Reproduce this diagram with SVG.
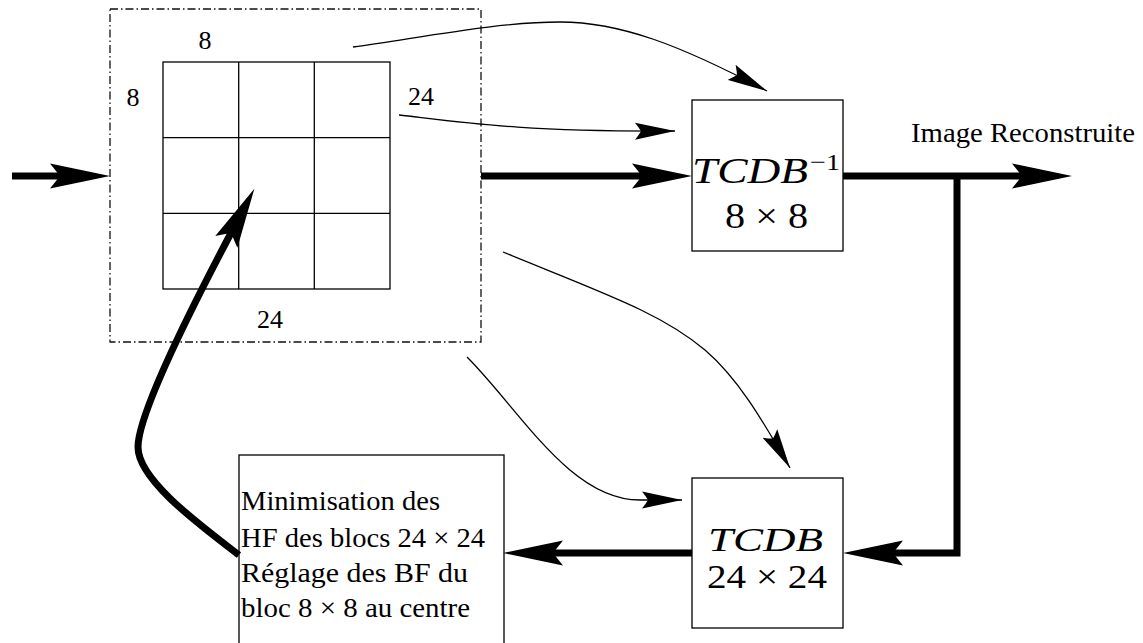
<svg xmlns="http://www.w3.org/2000/svg" width="1143" height="643" viewBox="0 0 1143 643">
  <style>
    .box { fill: #fff; stroke: #000; stroke-width: 1.3; }
    .grid { fill: none; stroke: #000; stroke-width: 1.3; }
    .frame { fill: none; stroke: #111; stroke-width: 1.3; stroke-dasharray: 8 3 1.5 3; }
    .txt { font-family: "Liberation Serif", "DejaVu Serif", serif; fill: #000; }
    .math { font-family: "Liberation Serif", "DejaVu Serif", serif; font-style: italic; fill: #000; }
    .thick { fill: none; stroke: #000; stroke-width: 7; stroke-linejoin: miter; }
    .thin { fill: none; stroke: #000; stroke-width: 1.3; }
  </style>
  <defs>
    <marker id="headThick" viewBox="0 -13 61 26" markerWidth="61" markerHeight="26" refX="10" refY="0" orient="auto" markerUnits="userSpaceOnUse">
      <path d="M60,0 L0,-12.5 Q6,-5 10,0 Q6,5 0,12.5 Z" fill="#000"/>
    </marker>
    <marker id="headThin" viewBox="0 -9 41 18" markerWidth="41" markerHeight="18" refX="40" refY="0" orient="auto" markerUnits="userSpaceOnUse">
      <path d="M40,0 L0,-8.5 Q4,-3.5 6,0 Q4,3.5 0,8.5 Z" fill="#000"/>
    </marker>
  </defs>

  <rect width="1143" height="643" fill="#fff"/>

  <!-- image block: 24x24 window made of nine 8x8 blocks -->
  <g id="fenetre">
    <rect class="frame" x="110" y="9" width="371" height="333"/>
    <rect class="grid" x="163" y="62" width="227" height="227"/>
    <path class="grid" d="M238.7,62 V289 M314.3,62 V289 M163,137.7 H390 M163,213.3 H390"/>
    <text class="txt" x="205" y="49" font-size="26" text-anchor="middle">8</text>
    <text class="txt" x="133" y="106" font-size="26" text-anchor="middle">8</text>
    <text class="txt" x="421" y="105" font-size="26" text-anchor="middle">24</text>
    <text class="txt" x="270" y="328" font-size="26" text-anchor="middle">24</text>
  </g>

  <!-- inverse transform 8x8 -->
  <g id="tcdb-inverse">
    <rect class="box" x="692" y="100" width="151" height="151"/>
    <text class="math" x="692" y="183" font-size="36" textLength="116" lengthAdjust="spacingAndGlyphs">TCDB</text>
    <text class="txt" x="810" y="170" font-size="24" textLength="30" lengthAdjust="spacingAndGlyphs">−1</text>
    <text class="txt" x="766.5" y="228" font-size="36" text-anchor="middle" textLength="83" lengthAdjust="spacingAndGlyphs">8 × 8</text>
  </g>

  <!-- forward transform 24x24 -->
  <g id="tcdb">
    <rect class="box" x="692" y="478" width="151" height="150"/>
    <text class="math" x="708" y="551" font-size="34" textLength="115" lengthAdjust="spacingAndGlyphs">TCDB</text>
    <text class="txt" x="707" y="588" font-size="34" textLength="120" lengthAdjust="spacingAndGlyphs">24 × 24</text>
  </g>

  <!-- optimisation step -->
  <g id="minimisation">
    <rect class="box" x="239" y="455" width="265" height="200"/>
    <text class="txt" x="241" y="510" font-size="27" textLength="199" lengthAdjust="spacingAndGlyphs">Minimisation des</text>
    <text class="txt" x="241" y="547" font-size="27" textLength="244" lengthAdjust="spacingAndGlyphs">HF des blocs 24 × 24</text>
    <text class="txt" x="241" y="582" font-size="27" textLength="227" lengthAdjust="spacingAndGlyphs">Réglage des BF du</text>
    <text class="txt" x="241" y="617" font-size="27" textLength="229" lengthAdjust="spacingAndGlyphs">bloc 8 × 8 au centre</text>
  </g>

  <!-- output label -->
  <g id="sortie">
    <text class="txt" x="911" y="142" font-size="27" textLength="224" lengthAdjust="spacingAndGlyphs">Image Reconstruite</text>
  </g>

  <g id="connecteurs">
    <!-- main data path -->
    <path class="thick" d="M12,176 H60" marker-end="url(#headThick)"/>
    <path class="thick" d="M481,176 H642" marker-end="url(#headThick)"/>
    <path class="thick" d="M843,176 H1022" marker-end="url(#headThick)"/>
    <path class="thick" d="M957,173 V553 H893" marker-end="url(#headThick)"/>
    <path class="thick" d="M692,553 H553" marker-end="url(#headThick)"/>
    <!-- feedback loop into the central block -->
    <path class="thick" d="M239,555 C200,525 138,480 138,447 C138,410 203,286 231,233" marker-end="url(#headThick)"/>
    <!-- thin information paths -->
    <path class="thin" d="M353,47 C430,36 500,22 560,22 C620,22 680,45 767,91" marker-end="url(#headThin)"/>
    <path class="thin" d="M399,115 C460,122 520,132 675,131" marker-end="url(#headThin)"/>
    <path class="thin" d="M503,252 C600,292 660,312 705,350 C740,380 765,425 790,468" marker-end="url(#headThin)"/>
    <path class="thin" d="M467,357 C520,410 570,500 640,500 L682,500" marker-end="url(#headThin)"/>
  </g>
</svg>
